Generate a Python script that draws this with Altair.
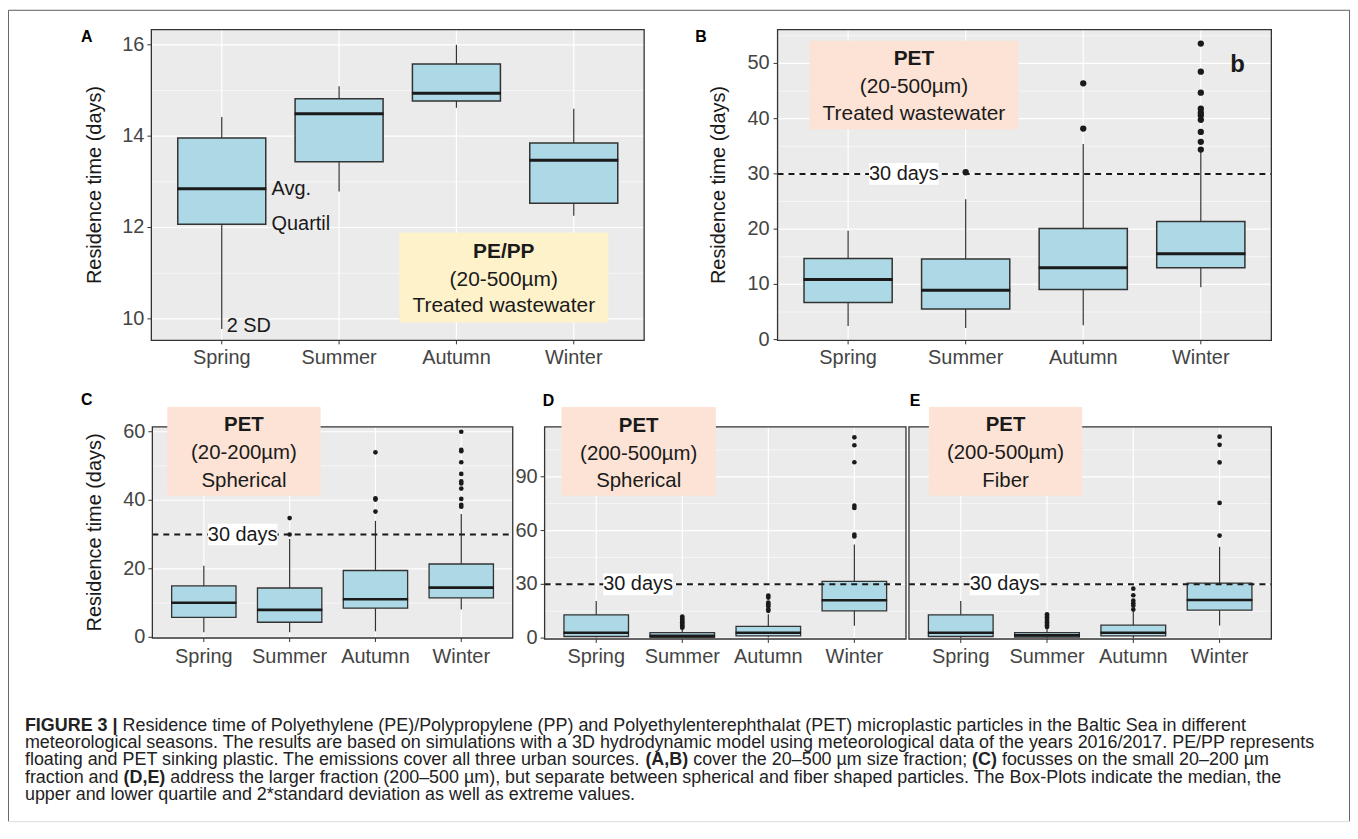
import altair as alt
import pandas as pd

# ------------------------------------------------------------------ data
seasons = ["Spring", "Summer", "Autumn", "Winter"]

# Panel A  (PE/PP, 20-500 um, treated wastewater)
a_lo = [9.78, 12.79, 14.62, 12.26]
a_q1 = [12.07, 13.44, 14.77, 12.53]
a_med = [12.85, 14.49, 14.94, 13.47]
a_q3 = [13.96, 14.82, 15.58, 13.85]
a_hi = [14.42, 15.09, 16.00, 14.60]
a_out_season = []
a_out_value = []

# Panel B  (PET, 20-500 um, treated wastewater)
b_lo = [2.46, 2.10, 2.58, 9.50]
b_q1 = [6.73, 5.53, 9.07, 13.00]
b_med = [10.87, 8.95, 13.00, 15.56]
b_q3 = [14.70, 14.60, 20.10, 21.40]
b_hi = [19.70, 25.40, 35.40, 34.00]
b_out_season = ["Summer", "Autumn", "Autumn"] + ["Winter"] * 10
b_out_value = [30.3, 46.4, 38.2, 53.6, 48.5, 44.7, 41.8, 41.1, 40.6, 39.8, 37.6, 35.8, 34.4]

# Panel C  (PET, 20-200 um, spherical)
c_lo = [1.5, 1.5, 1.75, 8.1]
c_q1 = [5.8, 4.4, 8.5, 11.5]
c_med = [10.1, 8.0, 11.1, 14.5]
c_q3 = [15.0, 14.4, 19.5, 21.4]
c_hi = [20.9, 28.7, 34.0, 36.0]
c_out_season = ["Summer"] * 2 + ["Autumn"] * 4 + ["Winter"] * 11
c_out_value = [34.8, 30.0, 54.0, 40.6, 40.2, 36.7,
               60.0, 54.7, 54.3, 51.1, 47.7, 45.5, 44.9, 43.4, 40.4, 38.7, 38.1]

# Panel D  (PET, 200-500 um, spherical)
d_lo = [0.4, 0.0, 0.4, 6.9]
d_q1 = [0.9, 0.4, 1.3, 15.2]
d_med = [3.0, 1.3, 3.0, 21.1]
d_q3 = [13.0, 3.0, 6.5, 31.7]
d_hi = [20.7, 5.0, 13.3, 52.2]
d_out_season = ["Summer"] * 9 + ["Autumn"] * 7 + ["Winter"] * 7
d_out_value = [12.0, 11.2, 10.4, 9.6, 8.8, 8.0, 7.2, 6.4, 5.8,
               23.7, 22.6, 19.8, 18.9, 17.8, 16.1, 15.2,
               112.0, 107.6, 98.1, 73.9, 72.6, 57.8, 56.7]

# Panel E  (PET, 200-500 um, fiber)
e_lo = [0.0, 0.0, 0.0, 7.0]
e_q1 = [0.9, 0.6, 1.3, 15.6]
e_med = [3.0, 1.5, 3.0, 21.3]
e_q3 = [13.0, 3.1, 7.2, 30.7]
e_hi = [20.7, 5.4, 14.6, 50.9]
e_out_season = ["Summer"] * 9 + ["Autumn"] * 6 + ["Winter"] * 5
e_out_value = [13.3, 12.4, 11.5, 10.6, 9.7, 8.8, 7.9, 7.0, 6.2,
               27.6, 23.9, 20.9, 19.4, 18.1, 15.9,
               112.4, 107.8, 98.0, 75.4, 57.2]

threshold = [30]
y_title = "Residence time (days)"

a_ticks = [10, 12, 14, 16]
b_ticks = [0, 10, 20, 30, 40, 50]
c_ticks = [0, 20, 40, 60]
de_ticks = [0, 30, 60, 90]

caption_lines = [
    [("FIGURE 3 |", True),
     (" Residence time of Polyethylene (PE)/Polypropylene (PP) and Polyethylenterephthalat (PET) "
      "microplastic particles in the Baltic Sea in different", False)],
    [("meteorological seasons. The results are based on simulations with a 3D hydrodynamic model "
      "using meteorological data of the years 2016/2017. PE/PP represents", False)],
    [("floating and PET sinking plastic. The emissions cover all three urban sources. ", False),
     ("(A,B)", True), (" cover the 20\u2013500 \u00b5m size fraction; ", False),
     ("(C)", True), (" focusses on the small 20\u2013200 \u00b5m", False)],
    [("fraction and ", False), ("(D,E)", True),
     (" address the larger fraction (200\u2013500 \u00b5m), but separate between spherical and fiber "
      "shaped particles. The Box-Plots indicate the median, the", False)],
    [("upper and lower quartile and 2*standard deviation as well as extreme values.", False)],
]

# ------------------------------------------------------------------ style / layout
FONT = "Liberation Sans"
W, H = 1348, 815
BOX_FILL = "#ADD8E6"
DARK = "#333333"
PANEL_BG = "#EBEBEB"
YELLOW = "#FEF2CB"
PINK = "#FCE3D5"
TXT = "#1a1a1a"
LBL = "#444444"

panels = [
    dict(key="A", x0=144, x1=639, y0=20, y1=332, dom=[9.53, 16.33],
         major=a_ticks, minor=[11, 13, 15], title=y_title, tx=-57, ylab=True, lpad=7, xl=18,
         data=(a_lo, a_q1, a_med, a_q3, a_hi, a_out_season, a_out_value),
         dashed=False, lab_dx=0, sw=1.5, mw=3.0, pt=40),
    dict(key="B", x0=773, x1=1269, y0=20, y1=332, dom=[-0.13, 56.1],
         major=b_ticks, minor=[5, 15, 25, 35, 45, 55], title=y_title, tx=-59, ylab=True, lpad=8, xl=18,
         data=(b_lo, b_q1, b_med, b_q3, b_hi, b_out_season, b_out_value),
         dashed=True, lab_dx=56, sw=1.5, mw=3.0, pt=40),
    dict(key="C", x0=145, x1=507, y0=419, y1=631, dom=[-0.2, 61.4],
         major=c_ticks, minor=[10, 30, 50], title=y_title, tx=-58, ylab=True, lpad=7, xl=19,
         data=(c_lo, c_q1, c_med, c_q3, c_hi, c_out_season, c_out_value),
         dashed=True, lab_dx=39, sw=1.3, mw=2.6, pt=22),
    dict(key="D", x0=539, x1=902, y0=419, y1=632, dom=[-0.5, 117.8],
         major=de_ticks, minor=[15, 45, 75, 105], title=None, tx=0, ylab=True, lpad=7, xl=18,
         data=(d_lo, d_q1, d_med, d_q3, d_hi, d_out_season, d_out_value),
         dashed=True, lab_dx=42, sw=1.3, mw=2.6, pt=22),
    dict(key="E", x0=905, x1=1269, y0=419, y1=632, dom=[-0.5, 117.8],
         major=de_ticks, minor=[15, 45, 75, 105], title=None, tx=0, ylab=False, lpad=7, xl=18,
         data=(e_lo, e_q1, e_med, e_q3, e_hi, e_out_season, e_out_value),
         dashed=True, lab_dx=44, sw=1.3, mw=2.6, pt=22),
]

annotations = [
    dict(x0=393, x1=603, y0=224, y1=314, fill=YELLOW, cx=498, ys=[243, 271, 298],
         lines=["PE/PP", "(20-500\u00b5m)", "Treated wastewater"], size=21),
    dict(x0=805, x1=1015, y0=31, y1=120, fill=PINK, cx=910, ys=[49, 78, 105],
         lines=["PET", "(20-500\u00b5m)", "Treated wastewater"], size=21),
    dict(x0=160, x1=314, y0=399, y1=488, fill=PINK, cx=237, ys=[417, 445, 473],
         lines=["PET", "(20-200\u00b5m)", "Spherical"], size=20.5),
    dict(x0=556, x1=711, y0=399, y1=488, fill=PINK, cx=633.5, ys=[418, 446, 473],
         lines=["PET", "(200-500\u00b5m)", "Spherical"], size=20.5),
    dict(x0=925, x1=1079, y0=399, y1=488, fill=PINK, cx=1002, ys=[417, 445, 473],
         lines=["PET", "(200-500\u00b5m)", "Fiber"], size=20.5),
]

letters = [("A", 79, 27), ("B", 696, 27), ("C", 79, 392), ("D", 543, 393), ("E", 911, 393)]

one = pd.DataFrame({"k": [0]})


def deco_rect(x0, x1, y0, y1, **kw):
    return alt.Chart(one).mark_rect(**kw).encode(
        x=alt.value(x0), x2=alt.value(x1), y=alt.value(y0), y2=alt.value(y1))


def deco_text(txt, x, y, **kw):
    return alt.Chart(one).mark_text(text=txt, font=FONT, **kw).encode(
        x=alt.value(x), y=alt.value(y))


def build_panel(p):
    lo, q1, med, q3, hi, out_s, out_v = p["data"]
    x0, x1, y0, y1 = p["x0"], p["x1"], p["y0"], p["y1"]
    step = (x1 - x0) / 4.2
    bw = 0.75 * step
    xsc = alt.Scale(type="point", domain=seasons, range=[x0, x1], padding=0.6)
    ysc = alt.Scale(domain=p["dom"], range=[y1, y0], nice=False, zero=False)

    box = pd.DataFrame({"season": seasons, "lo": lo, "q1": q1, "med": med, "q3": q3, "hi": hi})
    outl = pd.DataFrame({"season": out_s, "value": out_v})
    minor = pd.DataFrame({"v": p["minor"]})
    major = pd.DataFrame({"v": p["major"], "lab": [str(v) for v in p["major"]]})

    def X():
        return alt.X("season:N", scale=xsc, axis=None)

    def Y(field):
        return alt.Y(field, scale=ysc, axis=None)

    layers = [
        alt.Chart(minor).mark_rule(color="white", strokeWidth=0.6).encode(
            y=Y("v:Q"), x=alt.value(x0), x2=alt.value(x1)),
        alt.Chart(major).mark_rule(color="white", strokeWidth=1.2).encode(
            y=Y("v:Q"), x=alt.value(x0), x2=alt.value(x1)),
        alt.Chart(box).mark_rule(color="white", strokeWidth=1.2).encode(
            x=X(), y=alt.value(y0), y2=alt.value(y1)),
        # x axis ticks + labels
        alt.Chart(box).mark_rule(color=DARK, strokeWidth=1).encode(
            x=X(), y=alt.value(y1), y2=alt.value(y1 + 4)),
        alt.Chart(box).mark_text(font=FONT, fontSize=20, color=LBL, baseline="middle").encode(
            x=X(), y=alt.value(y1 + p["xl"]), text="season:N"),
        # boxes
        alt.Chart(box).mark_rule(color=DARK, strokeWidth=1.2).encode(
            x=X(), y=Y("lo:Q"), y2="hi:Q"),
        alt.Chart(box).mark_bar(size=bw, fill=BOX_FILL, stroke=DARK, strokeWidth=p["sw"]).encode(
            x=X(), y=Y("q1:Q"), y2="q3:Q"),
        alt.Chart(box).mark_tick(size=bw + 1, thickness=p["mw"], color=TXT, orient="horizontal",
                                 opacity=1).encode(x=X(), y=Y("med:Q")),
    ]
    if p["ylab"]:
        layers.append(alt.Chart(major).mark_rule(color=DARK, strokeWidth=1).encode(
            y=Y("v:Q"), x=alt.value(x0 - 4), x2=alt.value(x0)))
        layers.append(alt.Chart(major).mark_text(
            font=FONT, fontSize=20, color=LBL, align="right", baseline="middle").encode(
            y=Y("v:Q"), x=alt.value(x0 - p["lpad"]), text="lab:N"))
    if p["dashed"]:
        thr = pd.DataFrame({"v": threshold})
        layers.append(alt.Chart(thr).mark_rule(color=TXT, strokeWidth=2, strokeDash=[6, 5]).encode(
            y=Y("v:Q"), x=alt.value(x0), x2=alt.value(x1)))
    if len(out_v):
        layers.append(alt.Chart(outl).mark_circle(size=p["pt"], color=TXT, opacity=1).encode(
            x=X(), y=Y("value:Q")))
    if p["dashed"]:
        lab = pd.DataFrame({"season": ["Spring"], "v": threshold, "t": ["30 days"]})
        layers.append(alt.Chart(lab).mark_point(
            shape="M-1,-0.31H1V0.31H-1Z", filled=True, fill="white", opacity=1, strokeWidth=0,
            size=70 * 70, xOffset=p["lab_dx"]).encode(x=X(), y=Y("v:Q")))
        layers.append(alt.Chart(lab).mark_text(
            font=FONT, fontSize=20, color=TXT, dx=p["lab_dx"], baseline="middle").encode(
            x=X(), y=Y("v:Q"), text="t:N"))
    if p["key"] == "A":
        notes = pd.DataFrame({"season": ["Spring"] * 3,
                              "v": [med[0], q1[0], lo[0]],
                              "t": ["Avg.", "Quartil", "2 SD"],
                              "dx": [50, 50, 5], "dy": [0, 0, -3]})
        for i in range(3):
            layers.append(alt.Chart(notes.iloc[[i]]).mark_text(
                font=FONT, fontSize=20, color=TXT, align="left", baseline="middle",
                dx=int(notes.dx[i]), dy=int(notes.dy[i])).encode(x=X(), y=Y("v:Q"), text="t:N"))
    out = [alt.layer(*layers)]
    if p["title"]:
        out.append(deco_text(p["title"], x0 + p["tx"], (y0 + y1) / 2, fontSize=20, angle=270,
                             align="center", baseline="middle", color=TXT))
    return out


# ------------------------------------------------------------------ caption text layout
REG = {c: 556 for c in "abdeghnopqu0123456789\u00b5\u2013"}
REG.update({"c": 500, "f": 278, "i": 222, "j": 222, "k": 500, "l": 222, "m": 833, "r": 333,
            "s": 500, "t": 278, "v": 500, "w": 722, "x": 500, "y": 500, "z": 500,
            "A": 667, "B": 667, "C": 722, "D": 722, "E": 667, "F": 611, "G": 778, "H": 722,
            "I": 278, "J": 500, "K": 667, "L": 556, "M": 833, "N": 722, "O": 778, "P": 667,
            "Q": 778, "R": 722, "S": 667, "T": 611, "U": 722, "V": 667, "W": 944, "X": 667,
            "Y": 667, "Z": 611, " ": 278, ".": 278, ",": 278, ";": 278, ":": 278, "(": 333,
            ")": 333, "/": 278, "*": 389, "-": 333, "|": 260})
BOLD = {"(": 333, ")": 333, ",": 278, " ": 278, "3": 556, "|": 280, "A": 722, "B": 722,
        "C": 722, "D": 722, "E": 667, "F": 611, "G": 778, "I": 278, "R": 722, "U": 722}
CAP_SIZE = 18


def text_w(s, bold):
    tbl = BOLD if bold else REG
    return sum(tbl.get(ch, 556) for ch in s) * CAP_SIZE / 1000.0


caption_layers = []
cap_x0, cap_y0, cap_dy = 17, 719, 17.5
for li, segs in enumerate(caption_lines):
    cx = cap_x0
    cy = cap_y0 + li * cap_dy
    for s, bold in segs:
        lead = len(s) - len(s.lstrip(" "))
        caption_layers.append(deco_text(
            s.strip(), cx + text_w(" " * lead, bold), cy, fontSize=CAP_SIZE, align="left",
            baseline="middle", color="#222222", fontWeight="bold" if bold else "normal"))
        cx += text_w(s, bold)

# ------------------------------------------------------------------ assemble
layers = []
for p in panels:
    layers.append(deco_rect(p["x0"], p["x1"], p["y0"], p["y1"], fill=PANEL_BG))
for p in panels:
    layers += build_panel(p)
for p in panels:
    layers.append(deco_rect(p["x0"], p["x1"], p["y0"], p["y1"], fill="transparent",
                            stroke=DARK, strokeWidth=1.3))
for a in annotations:
    layers.append(deco_rect(a["x0"], a["x1"], a["y0"], a["y1"], fill=a["fill"]))
    for i, (t, yy) in enumerate(zip(a["lines"], a["ys"])):
        layers.append(deco_text(t, a["cx"], yy, fontSize=a["size"], align="center",
                                baseline="middle", color=TXT,
                                fontWeight="bold" if i == 0 else "normal"))
for t, x, y in letters:
    layers.append(deco_text(t, x, y, fontSize=16, fontWeight="bold", align="center",
                            baseline="middle", color="black"))
layers.append(deco_text("b", 1235, 55, fontSize=24, fontWeight="bold", align="center",
                        baseline="middle", color=TXT))
layers += caption_layers

# outer frame (top, left, right)
layers.append(alt.Chart(one).mark_rule(color="#666666", strokeWidth=1).encode(
    x=alt.value(0.5), x2=alt.value(W - 0.5), y=alt.value(0.5)))
layers.append(alt.Chart(one).mark_rule(color="#666666", strokeWidth=1).encode(
    x=alt.value(0.5), y=alt.value(0.5), y2=alt.value(H)))
layers.append(alt.Chart(one).mark_rule(color="#666666", strokeWidth=1).encode(
    x=alt.value(W - 0.5), y=alt.value(0.5), y2=alt.value(H)))

chart = alt.layer(*layers).resolve_scale(x="independent", y="independent").properties(
    width=W, height=H, autosize=alt.AutoSizeParams(type="none"), padding=0
).configure_view(strokeWidth=0).configure(font=FONT, background="white")

chart.save("out.html", embed_options={"renderer": "svg", "actions": False})
